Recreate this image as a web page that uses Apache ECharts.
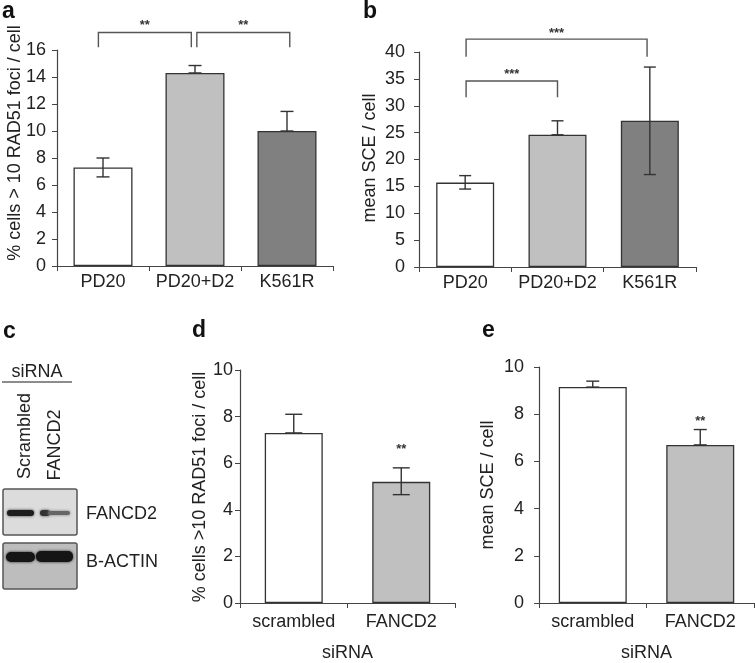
<!DOCTYPE html>
<html><head><meta charset="utf-8">
<script src="https://cdn.jsdelivr.net/npm/echarts@6/dist/echarts.min.js"></script>
<style>html,body{margin:0;padding:0;background:#fff}#c{width:755px;height:663px}</style>
</head><body><div id="c"></div>
<script>
// ---- data ----
const catsAB = ['PD20', 'PD20+D2', 'K561R'];
const catsDE = ['scrambled', 'FANCD2'];
const aValues = [7.3, 14.3, 10.0];
const aErrLow = [6.6, 14.3, 10.0];
const aErrHigh = [8.0, 14.85, 11.45];
const bValues = [15.7, 24.6, 27.2];
const bErrLow = [14.5, 24.6, 17.2];
const bErrHigh = [17.0, 27.2, 37.2];
const dValues = [7.3, 5.2];
const dErrLow = [7.3, 4.65];
const dErrHigh = [8.1, 5.8];
const eValues = [9.15, 6.7];
const eErrLow = [9.15, 6.7];
const eErrHigh = [9.4, 7.35];
// brackets: [cat1, offset1, cat2, offset2, topValue, legValue, label, labelValue]
const aBrackets = [[0, -0.05, 1, -0.04, 17.3, 16.2, '**', 17.85], [1, 0.02, 2, 0.03, 17.3, 16.2, '**', 17.85]];
const bBrackets = [[0, 0.01, 2, -0.03, 42.4, 39.1, '***', 43.5], [0, 0.01, 1, 0.0, 34.6, 31.6, '***', 35.9]];
const dStars = [[1, 6.6, '**']];
const eStars = [[1, 7.7, '**']];
const aTicks = {max: 16, interval: 2};
const bTicks = {max: 40, interval: 5};
const dTicks = {max: 10, interval: 2};
const eTicks = {max: 10, interval: 2};
const colorsABC = ['#ffffff', '#c0c0c0', '#808080'];
const colorsDE = ['#ffffff', '#c0c0c0'];

const TXT = '#222';
const AX = '#444';
const FONT = 'Liberation Sans, Arial, sans-serif';

const chart = echarts.init(document.getElementById('c'));

function xAxisCfg(idx, cats, name, margin) {
  return {
    type: 'category', gridIndex: idx, data: cats,
    axisLine: {lineStyle: {color: AX, width: 1.2}},
    axisTick: {show: true, alignWithLabel: false, length: 5, lineStyle: {color: AX}},
    axisLabel: {color: TXT, fontSize: 18, fontFamily: FONT, margin: margin, interval: 0},
    name: name || '', nameLocation: 'middle', nameGap: 41,
    nameTextStyle: {color: TXT, fontSize: 18, fontFamily: FONT}
  };
}
function yAxisCfg(idx, t, margin) {
  return {
    type: 'value', gridIndex: idx, min: 0, max: t.max, interval: t.interval,
    splitLine: {show: false},
    axisLine: {show: true, lineStyle: {color: AX, width: 1.2}},
    axisTick: {show: true, length: 5, lineStyle: {color: AX}},
    axisLabel: {color: TXT, fontSize: 18, fontFamily: FONT, margin: margin}
  };
}
function barSeries(idx, vals, colors, width) {
  return {
    type: 'bar', xAxisIndex: idx, yAxisIndex: idx, barWidth: width,
    data: vals.map((v, i) => ({value: v, itemStyle: {color: colors[i]}})),
    itemStyle: {borderColor: '#333', borderWidth: 1.3},
    z: 2, animation: false
  };
}
function errSeries(idx, low, high, cap) {
  return {
    type: 'custom', xAxisIndex: idx, yAxisIndex: idx, z: 5, animation: false,
    data: low.map((l, i) => [i, l, high[i]]),
    renderItem: function (params, api) {
      const lo = api.coord([api.value(0), api.value(1)]);
      const hi = api.coord([api.value(0), api.value(2)]);
      const st = {stroke: '#333', lineWidth: 1.4};
      return {type: 'group', children: [
        {type: 'line', shape: {x1: hi[0], y1: lo[1], x2: hi[0], y2: hi[1]}, style: st},
        {type: 'line', shape: {x1: hi[0] - cap / 2, y1: hi[1], x2: hi[0] + cap / 2, y2: hi[1]}, style: st},
        {type: 'line', shape: {x1: lo[0] - cap / 2, y1: lo[1], x2: lo[0] + cap / 2, y2: lo[1]}, style: st, invisible: api.value(1) === api.value(2)}
      ]};
    }
  };
}
function bracketSeries(idx, br) {
  return {
    type: 'custom', xAxisIndex: idx, yAxisIndex: idx, z: 5, animation: false, clip: false,
    data: br.map(b => [b[0], b[1], b[2], b[3], b[4], b[5], b[7]]),
    renderItem: function (params, api) {
      const bw = api.size([1, 0])[0];
      const p1 = api.coord([api.value(0), api.value(4)]);
      const p2 = api.coord([api.value(2), api.value(4)]);
      const leg = api.coord([api.value(0), api.value(5)]);
      const lab = api.coord([api.value(0), api.value(6)]);
      const x1 = p1[0] + api.value(1) * bw;
      const x2 = p2[0] + api.value(3) * bw;
      const st = {stroke: '#555', lineWidth: 1.4, fill: null};
      const label = br[params.dataIndex][6];
      return {type: 'group', children: [
        {type: 'polyline', shape: {points: [[x1, leg[1]], [x1, p1[1]], [x2, p1[1]], [x2, leg[1]]]}, style: st},
        {type: 'text', x: (x1 + x2) / 2, y: lab[1], style: {text: label, fill: '#333', font: 'bold 13px ' + FONT, align: 'center', verticalAlign: 'middle'}}
      ]};
    }
  };
}
function starSeries(idx, stars) {
  return {
    type: 'custom', xAxisIndex: idx, yAxisIndex: idx, z: 5, animation: false, clip: false,
    data: stars.map(s => [s[0], s[1]]),
    renderItem: function (params, api) {
      const p = api.coord([api.value(0), api.value(1)]);
      return {type: 'text', x: p[0], y: p[1], style: {text: stars[params.dataIndex][2], fill: '#333', font: 'bold 13px ' + FONT, align: 'center', verticalAlign: 'middle'}};
    }
  };
}

function vText(x, y, text) {
  return {type: 'text', x: x, y: y, rotation: Math.PI / 2,
    style: {text: text, fill: TXT, font: '18px ' + FONT, align: 'center', verticalAlign: 'middle'}};
}
function panelLabel(x, y, t) {
  return {type: 'text', x: x, y: y, style: {text: t, fill: '#111', font: 'bold 23px ' + FONT, align: 'left', verticalAlign: 'middle'}};
}

const graphics = [
  panelLabel(2, 12, 'a'), panelLabel(363, 12, 'b'), panelLabel(3, 332, 'c'),
  panelLabel(192, 331, 'd'), panelLabel(482, 331, 'e'),
  vText(15, 143, '% cells > 10 RAD51 foci / cell'),
  vText(370, 158, 'mean SCE / cell'),
  vText(200, 487, '% cells >10 RAD51 foci / cell'),
  vText(488, 485, 'mean SCE / cell'),
  // western blot panel c
  {type: 'text', x: 37, y: 372, style: {text: 'siRNA', fill: TXT, font: '18px ' + FONT, align: 'center', verticalAlign: 'middle'}},
  {type: 'line', shape: {x1: 2, y1: 382, x2: 72, y2: 382}, style: {stroke: '#666', lineWidth: 1.5}},
  vText(25, 436, 'Scrambled'),
  vText(55, 445, 'FANCD2'),
  {type: 'rect', shape: {x: 3, y: 489, width: 74, height: 46, r: 2}, style: {fill: '#dcdcdc', stroke: '#555', lineWidth: 1.5}},
  {type: 'rect', shape: {x: 7, y: 510, width: 27, height: 6, r: 3}, style: {fill: '#1e1e1e', shadowBlur: 3, shadowColor: '#333'}},
  {type: 'rect', shape: {x: 40, y: 510, width: 10, height: 6, r: 3}, style: {fill: '#333', shadowBlur: 3, shadowColor: '#444'}},
  {type: 'rect', shape: {x: 48, y: 511, width: 22, height: 4, r: 2}, style: {fill: '#666', shadowBlur: 3, shadowColor: '#777'}},
  {type: 'rect', shape: {x: 3, y: 543, width: 74, height: 46, r: 2}, style: {fill: '#bdbdbd', stroke: '#555', lineWidth: 1.5}},
  {type: 'rect', shape: {x: 6, y: 552, width: 29, height: 10, r: 5}, style: {fill: '#151515', shadowBlur: 3, shadowColor: '#222'}},
  {type: 'rect', shape: {x: 36, y: 551, width: 37, height: 11, r: 5}, style: {fill: '#151515', shadowBlur: 3, shadowColor: '#222'}},
  {type: 'text', x: 86, y: 514, style: {text: 'FANCD2', fill: TXT, font: '18px ' + FONT, align: 'left', verticalAlign: 'middle'}},
  {type: 'text', x: 86, y: 562, style: {text: 'B-ACTIN', fill: TXT, font: '18px ' + FONT, align: 'left', verticalAlign: 'middle'}}
];

chart.setOption({
  animation: false,
  backgroundColor: '#fff',
  grid: [
    {left: 57, top: 50, width: 276, height: 216},
    {left: 419, top: 52, width: 277, height: 215},
    {left: 240, top: 370, width: 215, height: 234},
    {left: 539, top: 367, width: 215, height: 236}
  ],
  xAxis: [xAxisCfg(0, catsAB, '', 7), xAxisCfg(1, catsAB, '', 7), xAxisCfg(2, catsDE, 'siRNA', 10), xAxisCfg(3, catsDE, 'siRNA', 10)],
  yAxis: [yAxisCfg(0, aTicks, 11), yAxisCfg(1, bTicks, 14), yAxisCfg(2, dTicks, 7), yAxisCfg(3, eTicks, 15)],
  series: [
    barSeries(0, aValues, colorsABC, 59), errSeries(0, aErrLow, aErrHigh, 13), bracketSeries(0, aBrackets),
    barSeries(1, bValues, colorsABC, 58), errSeries(1, bErrLow, bErrHigh, 12), bracketSeries(1, bBrackets),
    barSeries(2, dValues, colorsDE, 58), errSeries(2, dErrLow, dErrHigh, 17), starSeries(2, dStars),
    barSeries(3, eValues, colorsDE, 68), errSeries(3, eErrLow, eErrHigh, 13), starSeries(3, eStars)
  ],
  graphic: graphics
});
</script></body></html>
